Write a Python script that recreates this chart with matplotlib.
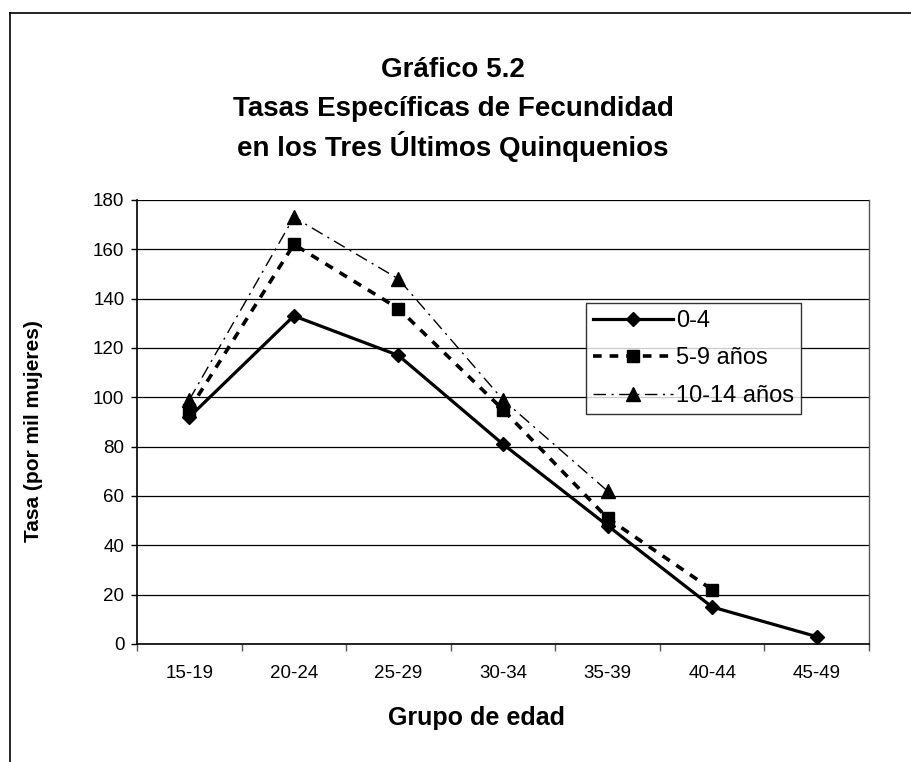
import matplotlib
matplotlib.use("Agg")
import matplotlib.pyplot as plt
from matplotlib.lines import Line2D
import numpy as np

plt.rcParams['font.family'] = ['Liberation Sans', 'DejaVu Sans']

categories = ["15-19", "20-24", "25-29", "30-34", "35-39", "40-44", "45-49"]
serie_0_4 = [92, 133, 117, 81, 48, 15, 3]
serie_5_9 = [95, 162, 136, 95, 51, 22, None]
serie_10_14 = [99, 173, 148, 99, 62, None, None]
labels = ["0-4", "5-9 años", "10-14 años"]
yticks = [0, 20, 40, 60, 80, 100, 120, 140, 160, 180]

W, H = 911, 762
fig = plt.figure(figsize=(W / 100, H / 100), dpi=100)
fig.patch.set_facecolor("white")

# plot area in pixel coords
left, right, top, bottom = 137, 869, 200, 644
ax = fig.add_axes([left / W, 1 - bottom / H, (right - left) / W, (bottom - top) / H])

x = np.arange(len(categories))

def clean(v):
    return np.array([np.nan if a is None else a for a in v], dtype=float)

ax.plot(x, clean(serie_0_4), color="black", lw=2.3, marker="D", ms=7.5,
        label=labels[0], zorder=5)
ax.plot(x, clean(serie_5_9), color="black", lw=2.6, ls=(0, (2.4, 2.2)), marker="s",
        ms=8, label=labels[1], zorder=4)
ax.plot(x, clean(serie_10_14), color="black", lw=1.0, ls=(0, (9, 4, 1.5, 4)), marker="^",
        ms=10, label=labels[2], zorder=3)

ax.set_xlim(-0.5, len(categories) - 0.5)
ax.set_ylim(0, 180)
ax.set_yticks(yticks)
ax.set_yticklabels([str(t) for t in yticks], fontsize=13.5)
ax.yaxis.grid(True, color="black", lw=0.9)
ax.set_axisbelow(True)

ax.set_xticks(x)
ax.set_xticklabels(categories, fontsize=13.5)
ax.set_xticks(np.arange(len(categories) + 1) - 0.5, minor=True)
ax.tick_params(axis="x", which="major", length=0, pad=15)
ax.tick_params(axis="x", which="minor", length=5, width=1, color="#555555")
ax.tick_params(axis="y", length=4, width=1, pad=5)

ax.spines["top"].set_visible(False)
ax.spines["right"].set_color("#555555")
ax.spines["right"].set_linewidth(1)
ax.spines["left"].set_linewidth(1.2)
ax.spines["bottom"].set_linewidth(1.2)

ax.set_xlabel("Grupo de edad", fontsize=18, fontweight="bold")
ax.xaxis.set_label_coords((477 - left) / (right - left), -(718 - bottom) / (bottom - top))
ax.xaxis.label.set_va("center")
ax.set_ylabel("Tasa (por mil mujeres)", fontsize=15, fontweight="bold")
ax.yaxis.set_label_coords(-(left - 33) / (right - left), (bottom - 431) / (bottom - top))
ax.yaxis.label.set_va("center")

leg = ax.legend(loc="upper left", bbox_to_anchor=((586 - left) / (right - left), (bottom - 303) / (bottom - top)),
                frameon=True, fancybox=False, edgecolor="black", fontsize=17,
                handlelength=3.4, handletextpad=0.1, borderpad=0.3, labelspacing=0.65,
                borderaxespad=0)
leg.get_frame().set_linewidth(1.0)

# titles
title_lines = ["Gráfico 5.2", "Tasas Específicas de Fecundidad", "en los Tres Últimos Quinquenios"]
for i, t in enumerate(title_lines):
    fig.text(0.5 * (9 + 897) / W, 1 - (70 + 38.5 * i) / H, t, ha="center", va="center",
             fontsize=20, fontweight="bold")

# outer frame (left and top)
fig.add_artist(Line2D([9.5 / W, 9.5 / W], [0, 1 - 12.5 / H], color="black", lw=1.2,
                      transform=fig.transFigure))
fig.add_artist(Line2D([9.5 / W, 1], [1 - 12.5 / H, 1 - 12.5 / H], color="black", lw=1.2,
                      transform=fig.transFigure))

fig.savefig("out.png", dpi=100, facecolor="white")
